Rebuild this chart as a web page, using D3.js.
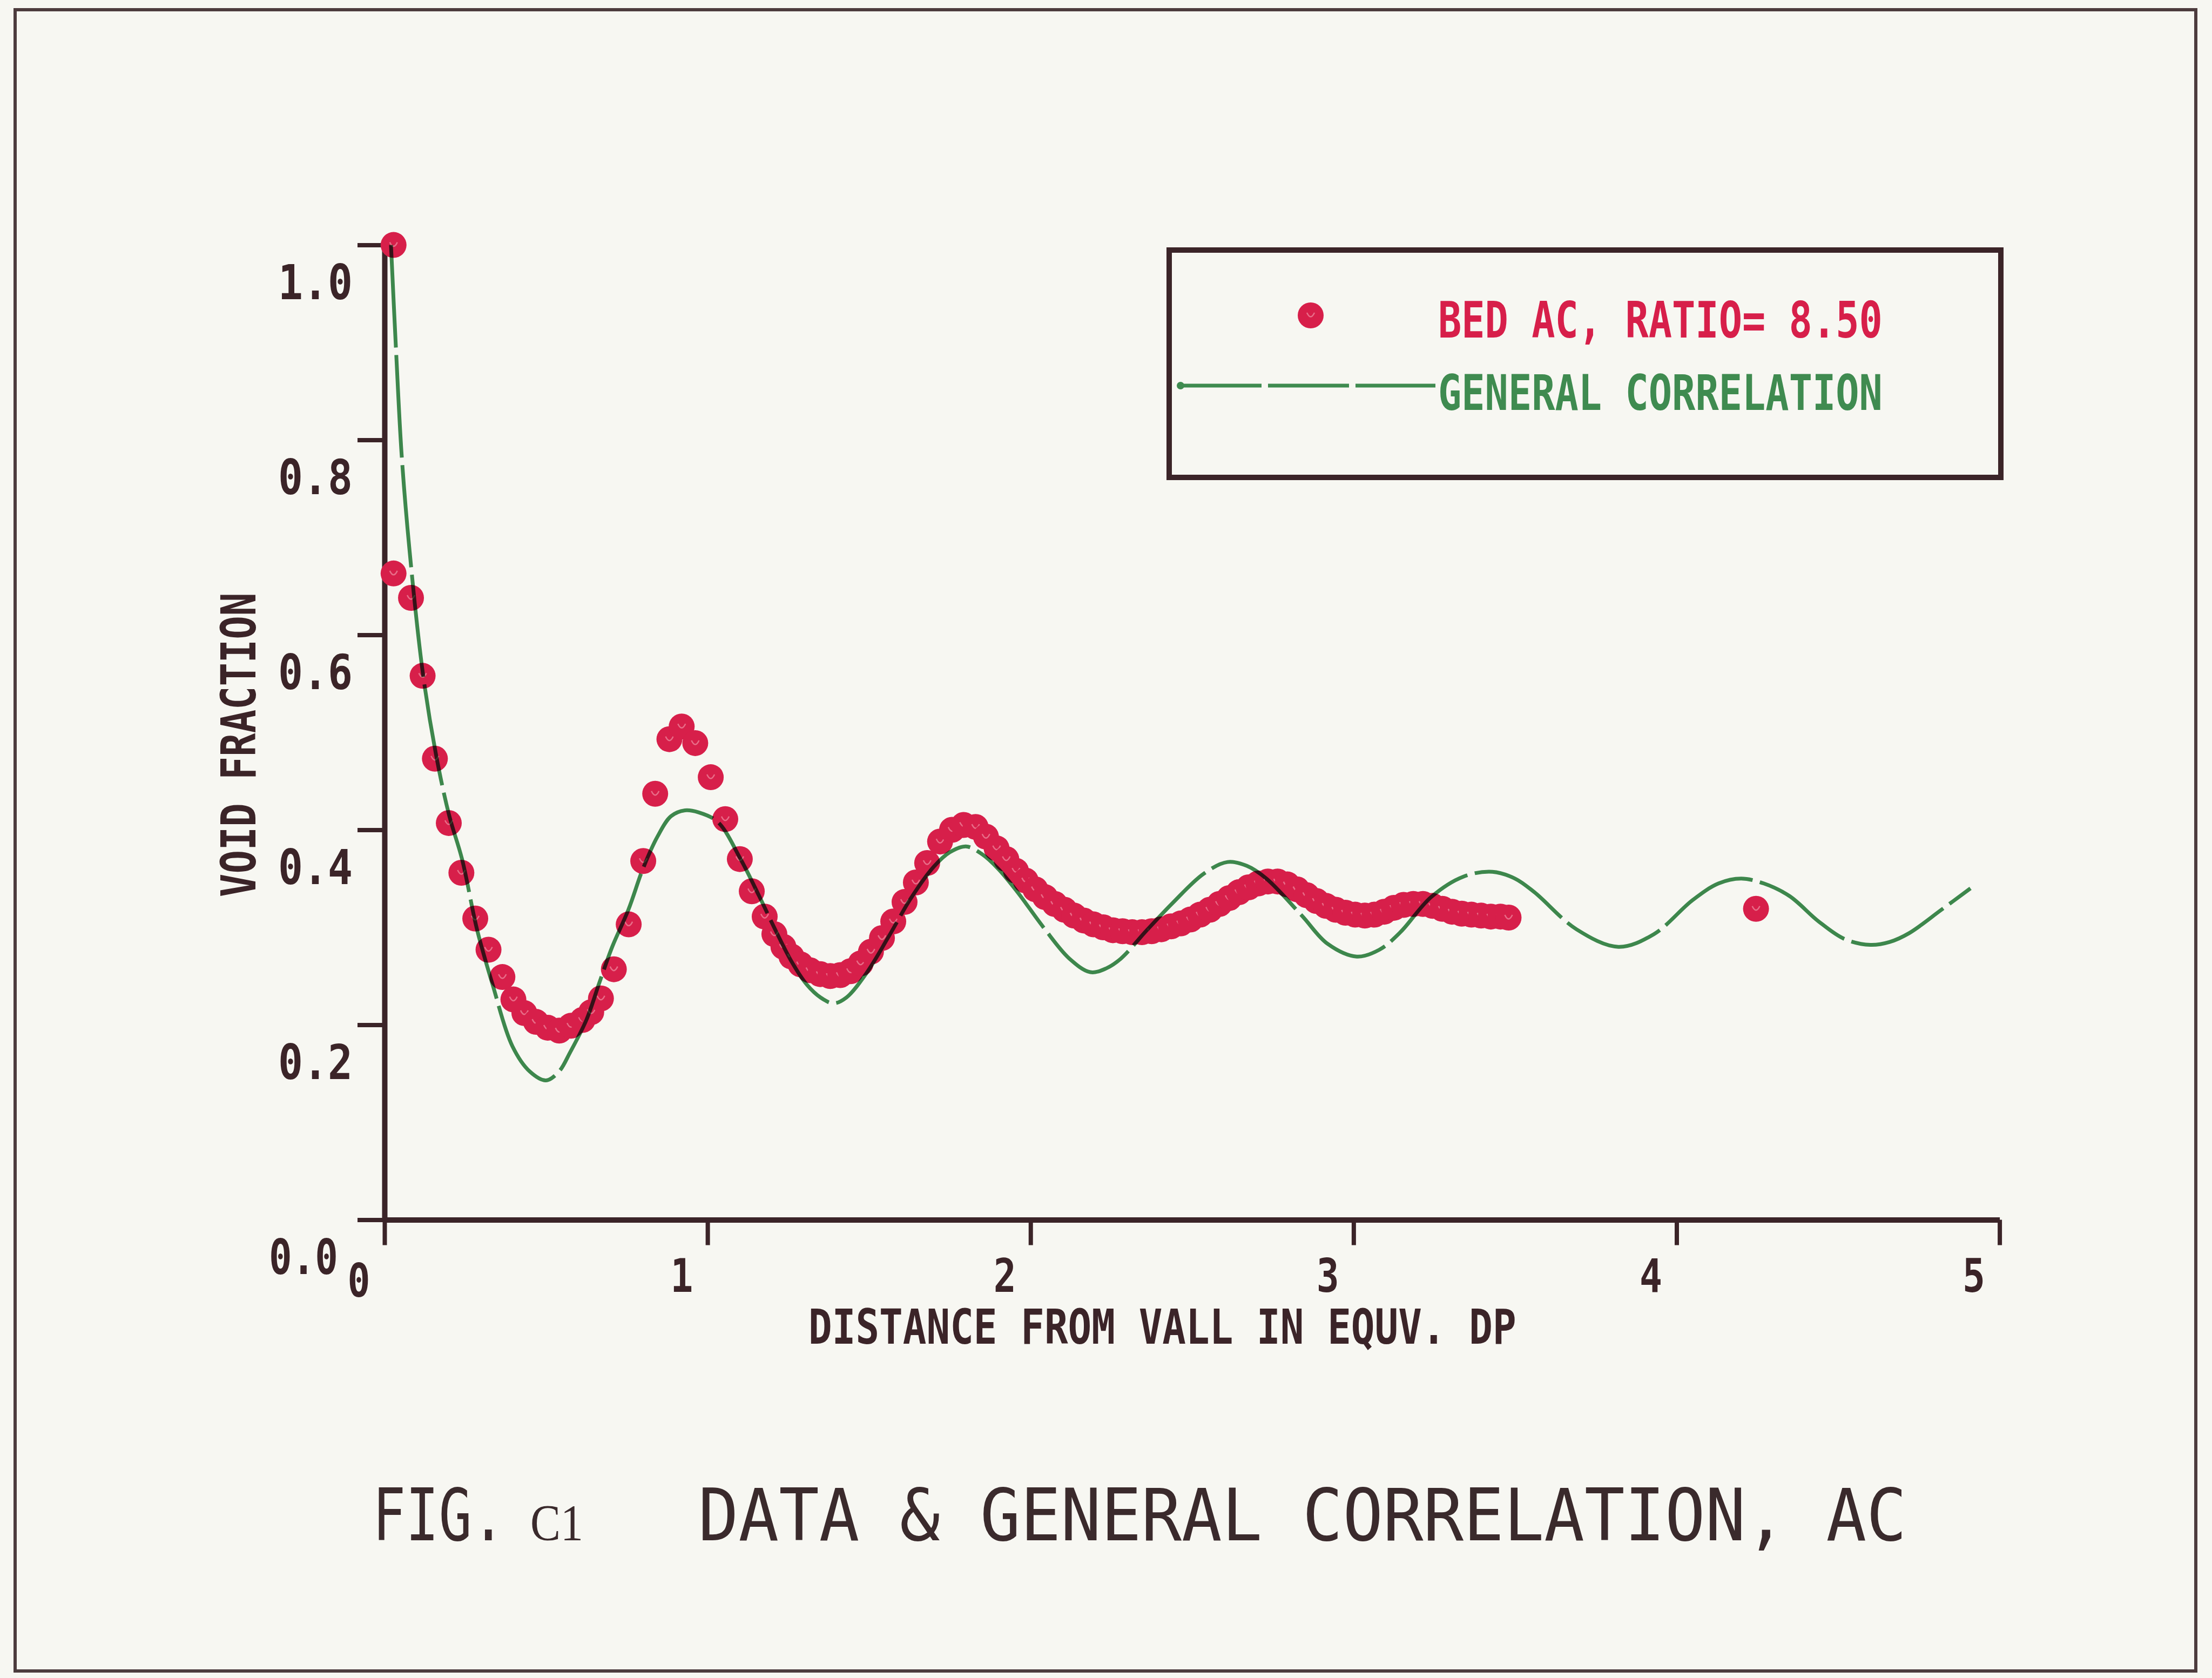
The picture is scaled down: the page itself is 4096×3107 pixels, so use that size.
<!DOCTYPE html>
<html>
<head>
<meta charset="utf-8">
<script src="https://cdn.jsdelivr.net/npm/d3@7"></script>
<style>
  html, body { margin: 0; padding: 0; background: #f7f7f2; }
  svg { display: block; }
</style>
</head>
<body>
<svg id="chart" width="4096" height="3107"></svg>
<script>
// Measured void fraction, bed AC (distance from wall in equivalent particle diameters)
const dataX = [0.028, 0.028, 0.082, 0.118, 0.156, 0.199, 0.238, 0.281, 0.322, 0.365,
  0.399, 0.433, 0.469, 0.505, 0.541, 0.577, 0.613, 0.640, 0.670, 0.710,
  0.756, 0.801, 0.838, 0.882, 0.920, 0.962, 1.010, 1.055, 1.100, 1.137,
  1.177, 1.207, 1.235, 1.260, 1.288, 1.317, 1.349, 1.380, 1.411, 1.443,
  1.474, 1.506, 1.540, 1.575, 1.610, 1.645, 1.680, 1.720, 1.757, 1.793,
  1.830, 1.862, 1.895, 1.925, 1.955, 1.985, 2.015, 2.045, 2.075, 2.105,
  2.135, 2.165, 2.195, 2.225, 2.255, 2.285, 2.315, 2.345, 2.375, 2.405,
  2.435, 2.465, 2.495, 2.525, 2.555, 2.585, 2.615, 2.645, 2.675, 2.705,
  2.735, 2.765, 2.795, 2.825, 2.855, 2.885, 2.915, 2.945, 2.975, 3.005,
  3.035, 3.065, 3.095, 3.125, 3.155, 3.185, 3.215, 3.245, 3.275, 3.305,
  3.335, 3.365, 3.395, 3.425, 3.455, 3.480, 4.246];
const dataY = [1.000, 0.663, 0.638, 0.558, 0.473, 0.407, 0.356, 0.309, 0.277, 0.249,
  0.226, 0.212, 0.203, 0.197, 0.194, 0.199, 0.205, 0.213, 0.227, 0.257,
  0.303, 0.368, 0.437, 0.493, 0.506, 0.489, 0.454, 0.411, 0.370, 0.337,
  0.311, 0.293, 0.280, 0.270, 0.262, 0.256, 0.252, 0.250, 0.251, 0.255,
  0.263, 0.275, 0.289, 0.306, 0.326, 0.346, 0.366, 0.388, 0.400, 0.405,
  0.403, 0.393, 0.381, 0.370, 0.358, 0.348, 0.339, 0.331, 0.324, 0.318,
  0.312, 0.307, 0.303, 0.300, 0.297, 0.296, 0.295, 0.295, 0.296, 0.298,
  0.301, 0.304, 0.308, 0.313, 0.318, 0.324, 0.330, 0.336, 0.341, 0.345,
  0.347, 0.347, 0.344, 0.339, 0.333, 0.327, 0.322, 0.318, 0.315, 0.313,
  0.312, 0.313, 0.316, 0.320, 0.323, 0.324, 0.324, 0.322, 0.319, 0.316,
  0.314, 0.313, 0.312, 0.311, 0.311, 0.310, 0.319];

// General correlation curve
const corrX = [0.020, 0.036, 0.053, 0.078, 0.119, 0.159, 0.200, 0.240, 0.287, 0.334,
  0.396, 0.450, 0.500, 0.540, 0.575, 0.625, 0.665, 0.705, 0.755, 0.800,
  0.845, 0.887, 0.930, 0.972, 1.032, 1.104, 1.160, 1.212, 1.260, 1.308,
  1.350, 1.390, 1.430, 1.490, 1.560, 1.630, 1.700, 1.750, 1.800, 1.850,
  1.900, 1.960, 2.040, 2.120, 2.185, 2.235, 2.280, 2.360, 2.440, 2.536,
  2.610, 2.670, 2.730, 2.840, 2.920, 3.010, 3.080, 3.145, 3.240, 3.340,
  3.430, 3.500, 3.560, 3.690, 3.820, 3.930, 4.050, 4.130, 4.200, 4.270,
  4.350, 4.440, 4.520, 4.600, 4.660, 4.720, 4.820, 4.910];
const corrY = [1.000, 0.890, 0.785, 0.685, 0.560, 0.478, 0.415, 0.370, 0.297, 0.242,
  0.178, 0.152, 0.143, 0.152, 0.172, 0.205, 0.243, 0.280, 0.318, 0.360,
  0.393, 0.414, 0.420, 0.418, 0.408, 0.369, 0.332, 0.296, 0.265, 0.241,
  0.228, 0.222, 0.228, 0.252, 0.290, 0.330, 0.362, 0.377, 0.383, 0.375,
  0.360, 0.336, 0.300, 0.268, 0.254, 0.258, 0.268, 0.297, 0.325, 0.355,
  0.367, 0.363, 0.350, 0.312, 0.283, 0.270, 0.277, 0.295, 0.331, 0.352,
  0.357, 0.350, 0.336, 0.298, 0.280, 0.293, 0.328, 0.345, 0.350, 0.345,
  0.332, 0.306, 0.288, 0.282, 0.285, 0.294, 0.318, 0.340];

const xTicks = [0, 1, 2, 3, 4, 5];
const yTicks = [0, 0.2, 0.4, 0.6, 0.8, 1.0];
const yTickLabels = ["0.0", "0.2", "0.4", "0.6", "0.8", "1.0"];
const legendLabels = ["BED AC, RATIO= 8.50", "GENERAL CORRELATION"];
const xTitle = "DISTANCE FROM VALL IN EQUV. DP";
const yTitle = "VOID FRACTION";
const figNumber = "FIG.";
const figId = "C1";
const figTitle = "DATA & GENERAL CORRELATION, AC";

// Pen colours
const ink = "#3b2428";
const red = "#d71f4a";
const green = "#3f8b50";
const paper = "#f7f7f2";
const monoFont = "'DejaVu Sans Mono', 'Liberation Mono', monospace";

const svg = d3.select("#chart");
svg.append("rect").attr("width", 4096).attr("height", 3107).attr("fill", paper);

// Squeeze a text horizontally so it spans exactly `width` pixels from (x, y)
function fitText(sel, x, y, width) {
  const natural = sel.node().getComputedTextLength();
  sel.attr("x", 0).attr("y", 0)
    .attr("transform", `translate(${x},${y}) scale(${width / natural},1)`);
  return sel;
}

// page frame
svg.append("rect")
  .attr("x", 28).attr("y", 18).attr("width", 4066 - 28).attr("height", 3094 - 18)
  .attr("fill", "none").attr("stroke", "#4d3c3e").attr("stroke-width", 6);

const x = d3.scaleLinear().domain([0, 5]).range([712, 3702.6]);
const y = d3.scaleLinear().domain([0, 1]).range([2258.5, 453.6]);

// X axis
const gx = svg.append("g")
  .attr("transform", `translate(0,${y(0)})`)
  .call(d3.axisBottom(x).tickValues(xTicks).tickSize(47).tickSizeOuter(0)
    .tickFormat(d3.format("d")));
gx.select(".domain").attr("stroke", ink).attr("stroke-width", 10);
gx.selectAll(".tick line").attr("stroke", ink).attr("stroke-width", 8);
gx.selectAll(".tick text")
  .attr("dy", null)
  .attr("fill", ink).attr("font-family", monoFont).attr("font-weight", "bold")
  .attr("font-size", 86).attr("text-anchor", "start")
  .each(function (d) {
    fitText(d3.select(this), -69, d === 0 ? 142 : 133, 42);
  });

// Y axis
const gy = svg.append("g")
  .attr("transform", `translate(${x(0)},0)`)
  .call(d3.axisLeft(y).tickValues(yTicks).tickSize(50).tickSizeOuter(0)
    .tickFormat((d, i) => yTickLabels[i]));
gy.select(".domain").attr("stroke", ink).attr("stroke-width", 10);
gy.selectAll(".tick line").attr("stroke", ink).attr("stroke-width", 8);
gy.selectAll(".tick text")
  .attr("dy", null)
  .attr("fill", ink).attr("font-family", monoFont).attr("font-weight", "bold")
  .attr("font-size", 89).attr("text-anchor", "start")
  .each(function (d) {
    const right = d === 0 ? -76 : -59;
    fitText(d3.select(this), right - 138, 100, d === 0 ? 128 : 138);
  });

// Axis titles
fitText(svg.append("text")
  .attr("fill", ink).attr("font-family", monoFont).attr("font-weight", "bold")
  .attr("font-size", 89)
  .text(xTitle), 1497, 2488, 1311);

const yt = svg.append("text")
  .attr("fill", ink).attr("font-family", monoFont).attr("font-weight", "bold")
  .attr("font-size", 89)
  .text(yTitle);
{
  const natural = yt.node().getComputedTextLength();
  yt.attr("text-anchor", "middle")
    .attr("transform", `translate(473,1379) rotate(-90) scale(${564 / natural},1)`);
}

// Measured points
const points = dataX.map((d, i) => ({ x: d, y: dataY[i] }));
const pts = svg.append("g");
function drawMarker(sel) {
  sel.append("circle").attr("r", 24).attr("fill", red);
  sel.append("path")
    .attr("d", "M-7,-5 Q0,10 7,-5")
    .attr("fill", "none").attr("stroke", "#ef8ea3").attr("stroke-width", 2.5)
    .attr("opacity", 0.7);
}
pts.selectAll("g.pt").data(points).join("g")
  .attr("class", "pt")
  .attr("transform", d => `translate(${x(d.x)},${y(d.y)})`)
  .call(drawMarker);

// Correlation curve (plotter ink overlapping the red points darkens)
const corr = corrX.map((d, i) => ({ x: d, y: corrY[i] }));
const line = d3.line().x(d => x(d.x)).y(d => y(d.y)).curve(d3.curveCatmullRom.alpha(0.5));
svg.append("path")
  .datum(corr)
  .attr("d", line)
  .attr("fill", "none").attr("stroke", green).attr("stroke-width", 7)
  .attr("stroke-dasharray", "190 14")
  .attr("stroke-linejoin", "round")
  .style("mix-blend-mode", "multiply");

// Legend
const lg = svg.append("g");
lg.append("rect")
  .attr("x", 2165).attr("y", 463).attr("width", 1540).attr("height", 421)
  .attr("fill", "none").attr("stroke", ink).attr("stroke-width", 10);
lg.append("g").attr("transform", "translate(2427,584)").call(drawMarker);
fitText(lg.append("text")
  .attr("fill", red).attr("font-family", monoFont).attr("font-weight", "bold")
  .attr("font-size", 93)
  .text(legendLabels[0]), 2663, 625, 823);
lg.append("line")
  .attr("x1", 2186).attr("x2", 2658).attr("y1", 714).attr("y2", 714)
  .attr("stroke", green).attr("stroke-width", 7)
  .attr("stroke-dasharray", "150 12");
lg.append("circle").attr("cx", 2186).attr("cy", 714).attr("r", 7).attr("fill", green);
fitText(lg.append("text")
  .attr("fill", green).attr("font-family", monoFont).attr("font-weight", "bold")
  .attr("font-size", 90)
  .text(legendLabels[1]), 2663, 759, 823);

// Figure caption
const cap = svg.append("g").attr("fill", "#3a2a2c");
fitText(cap.append("text")
  .attr("font-family", monoFont).attr("font-size", 133)
  .text(figNumber), 690, 2852, 245);
fitText(cap.append("text")
  .attr("font-family", "'Liberation Serif', 'DejaVu Serif', serif").attr("font-size", 96)
  .text(figId), 982, 2852, 98);
fitText(cap.append("text")
  .attr("font-family", monoFont).attr("font-size", 133)
  .text(figTitle), 1293, 2852, 2238);
</script>
</body>
</html>
